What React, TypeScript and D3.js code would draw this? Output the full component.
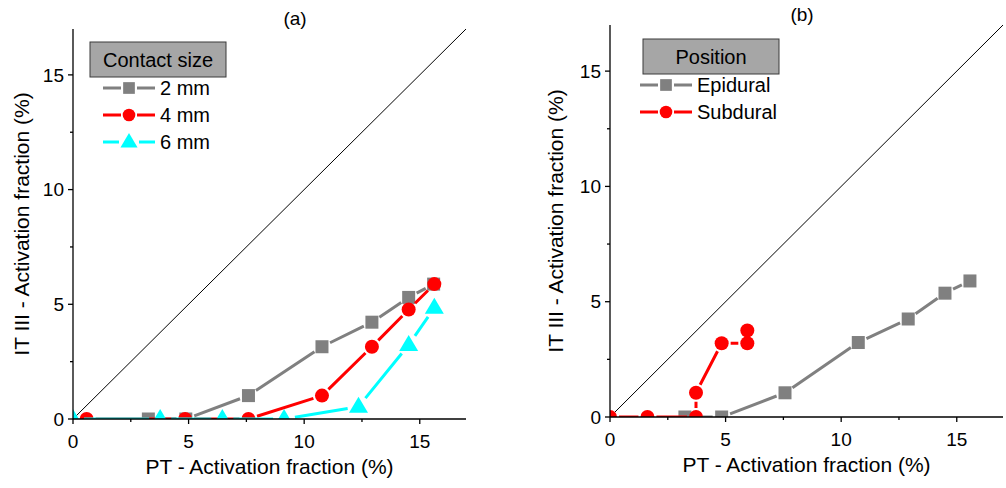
import React from 'react';
import * as d3 from 'd3';

// ticks (shared by both panels)
const majorTicks = [0, 5, 10, 15];
const minorTicks = [2.5, 7.5, 12.5];

// panel (a) - contact size
const size2mmX = [3.26, 4.88, 7.59, 10.77, 12.93, 14.52, 15.6];
const size2mmY = [0, 0, 1.02, 3.15, 4.22, 5.3, 5.88];
const size4mmX = [0.59, 4.85, 7.59, 10.77, 12.93, 14.52, 15.63];
const size4mmY = [0, 0, 0, 1.02, 3.15, 4.77, 5.88];
const size6mmX = [0, 3.77, 6.46, 9.13, 12.35, 14.52, 15.63];
const size6mmY = [0, 0, 0, 0, 0.54, 3.23, 4.85];

// panel (b) - position
const epiduralX = [3.24, 4.83, 7.57, 10.74, 12.9, 14.49, 15.57];
const epiduralY = [0, 0, 1.05, 3.23, 4.25, 5.37, 5.9];
const subduralX = [0, 1.62, 3.72, 3.72, 4.83, 5.94, 5.94];
const subduralY = [0, 0, 0, 1.05, 3.2, 3.2, 3.75];

const FONT = '"Liberation Sans", Arial, sans-serif';

type Shape = 'square' | 'circle' | 'triangle';
type Series = { name: string; xs: number[]; ys: number[]; color: string; shape: Shape };

const panelA: Series[] = [
  { name: '2 mm', xs: size2mmX, ys: size2mmY, color: '#808080', shape: 'square' },
  { name: '4 mm', xs: size4mmX, ys: size4mmY, color: '#ff0000', shape: 'circle' },
  { name: '6 mm', xs: size6mmX, ys: size6mmY, color: '#00ffff', shape: 'triangle' },
];
const panelB: Series[] = [
  { name: 'Epidural', xs: epiduralX, ys: epiduralY, color: '#808080', shape: 'square' },
  { name: 'Subdural', xs: subduralX, ys: subduralY, color: '#ff0000', shape: 'circle' },
];

const markerGap: Record<Shape, number> = { square: 9, circle: 9, triangle: 11 };

function Marker({ shape, x, y, color, s = 1 }: { shape: Shape; x: number; y: number; color: string; s?: number }) {
  if (shape === 'square') {
    const h = 6.5 * s;
    return <rect x={x - h} y={y - h} width={2 * h} height={2 * h} fill={color} />;
  }
  if (shape === 'circle') return <circle cx={x} cy={y} r={7 * s} fill={color} />;
  const w = 9.5 * s;
  const h = 16 * s;
  return <path d={`M${x},${y - h * 0.62}L${x + w},${y + h * 0.38}L${x - w},${y + h * 0.38}Z`} fill={color} />;
}

// line with small gaps around each marker
function gappedPath(pts: [number, number][], gap: number) {
  let d = '';
  for (let i = 0; i < pts.length - 1; i++) {
    const [x1, y1] = pts[i];
    const [x2, y2] = pts[i + 1];
    const len = Math.hypot(x2 - x1, y2 - y1);
    if (len <= 2 * gap) continue;
    const ux = (x2 - x1) / len;
    const uy = (y2 - y1) / len;
    d += `M${x1 + ux * gap},${y1 + uy * gap}L${x2 - ux * gap},${y2 - uy * gap}`;
  }
  return d;
}

type PanelProps = {
  id: string;
  x0: number;
  x1: number;
  y0: number;
  y1: number;
  title: string;
  titleX: number;
  series: Series[];
  legendTitle: string;
  legendBox: [number, number, number, number];
  legendLineX: number;
  legendY0: number;
  legendStep: number;
  yTitleX: number;
};

function Panel(p: PanelProps) {
  const x = d3.scaleLinear().domain([0, 17]).range([p.x0, p.x1]);
  const y = d3.scaleLinear().domain([0, 17]).range([p.y0, p.y1]);
  const [bx, by, bw, bh] = p.legendBox;

  return (
    <g>
      <defs>
        <clipPath id={`clip-${p.id}`}>
          <rect x={p.x0} y={p.y1} width={p.x1 - p.x0} height={p.y0 - p.y1} />
        </clipPath>
      </defs>

      {/* diagonal */}
      <line x1={x(0)} y1={y(0)} x2={x(17)} y2={y(17)} stroke="black" strokeWidth={1} />

      <g clipPath={`url(#clip-${p.id})`}>
        {p.series.map(s => {
          const pts = s.xs.map((v, i) => [x(v), y(s.ys[i])] as [number, number]);
          return (
            <g key={s.name}>
              <path d={gappedPath(pts, markerGap[s.shape])} fill="none" stroke={s.color} strokeWidth={3} />
              {pts.map((pt, i) => (
                <Marker key={i} shape={s.shape} x={pt[0]} y={pt[1]} color={s.color} />
              ))}
            </g>
          );
        })}
      </g>

      {/* axes */}
      <line x1={p.x0} x2={p.x1} y1={p.y0} y2={p.y0} stroke="black" strokeWidth={1.3} />
      <line x1={p.x0} x2={p.x0} y1={p.y0} y2={p.y1} stroke="black" strokeWidth={1.3} />
      {majorTicks.map(t => (
        <g key={`mx${t}`}>
          <line x1={x(t)} x2={x(t)} y1={p.y0} y2={p.y0 + 5} stroke="black" strokeWidth={1.3} />
          <text x={x(t)} y={p.y0 + 29} textAnchor="middle" fontSize={19} fontFamily={FONT}>{t}</text>
          <line x1={p.x0} x2={p.x0 - 5} y1={y(t)} y2={y(t)} stroke="black" strokeWidth={1.3} />
          <text x={p.x0 - 9} y={y(t)} dy="0.35em" textAnchor="end" fontSize={19} fontFamily={FONT}>{t}</text>
        </g>
      ))}
      {minorTicks.map(t => (
        <g key={`mn${t}`}>
          <line x1={x(t)} x2={x(t)} y1={p.y0} y2={p.y0 + 3} stroke="black" strokeWidth={1.3} />
          <line x1={p.x0} x2={p.x0 - 3} y1={y(t)} y2={y(t)} stroke="black" strokeWidth={1.3} />
        </g>
      ))}

      <text x={(p.x0 + p.x1) / 2} y={p.y0 + 55} textAnchor="middle" fontSize={21} fontFamily={FONT}>
        PT - Activation fraction (%)
      </text>
      <text
        transform={`translate(${p.yTitleX},${(p.y0 + p.y1) / 2}) rotate(-90)`}
        textAnchor="middle"
        fontSize={21}
        fontFamily={FONT}
      >
        IT III - Activation fraction (%)
      </text>
      <text x={p.titleX} y={p.y1 - 4} textAnchor="middle" fontSize={19} fontFamily={FONT}>{p.title}</text>

      {/* legend */}
      <rect x={bx} y={by} width={bw} height={bh} fill="#a6a6a6" stroke="#3a3a3a" strokeWidth={1} />
      <text x={bx + bw / 2} y={by + bh / 2} dy="0.35em" textAnchor="middle" fontSize={20} fontFamily={FONT}>
        {p.legendTitle}
      </text>
      {p.series.map((s, i) => {
        const ly = p.legendY0 + i * p.legendStep;
        const lx = p.legendLineX;
        const cx = lx + 26;
        const g = markerGap[s.shape] - 1;
        return (
          <g key={s.name}>
            <path d={`M${lx},${ly}L${cx - g},${ly}M${cx + g},${ly}L${lx + 52},${ly}`} stroke={s.color} strokeWidth={3} />
            <Marker shape={s.shape} x={cx} y={ly} color={s.color} s={0.9} />
            <text x={lx + 57} y={ly} dy="0.35em" fontSize={20} fontFamily={FONT}>{s.name}</text>
          </g>
        );
      })}
    </g>
  );
}

export default function App() {
  return (
    <div style={{ position: 'absolute', left: 0, top: 0 }}>
      <svg width={1006} height={488} style={{ display: 'block', background: 'white' }}>
        <Panel
          id="a"
          x0={73}
          x1={466}
          y0={419}
          y1={29}
          title="(a)"
          titleX={295}
          series={panelA}
          legendTitle="Contact size"
          legendBox={[90, 42, 136, 35]}
          legendLineX={103}
          legendY0={88}
          legendStep={27}
          yTitleX={29}
        />
        <Panel
          id="b"
          x0={610}
          x1={1003}
          y0={417}
          y1={25}
          title="(b)"
          titleX={802}
          series={panelB}
          legendTitle="Position"
          legendBox={[643, 39, 136, 35]}
          legendLineX={640}
          legendY0={85}
          legendStep={27}
          yTitleX={563}
        />
      </svg>
    </div>
  );
}
